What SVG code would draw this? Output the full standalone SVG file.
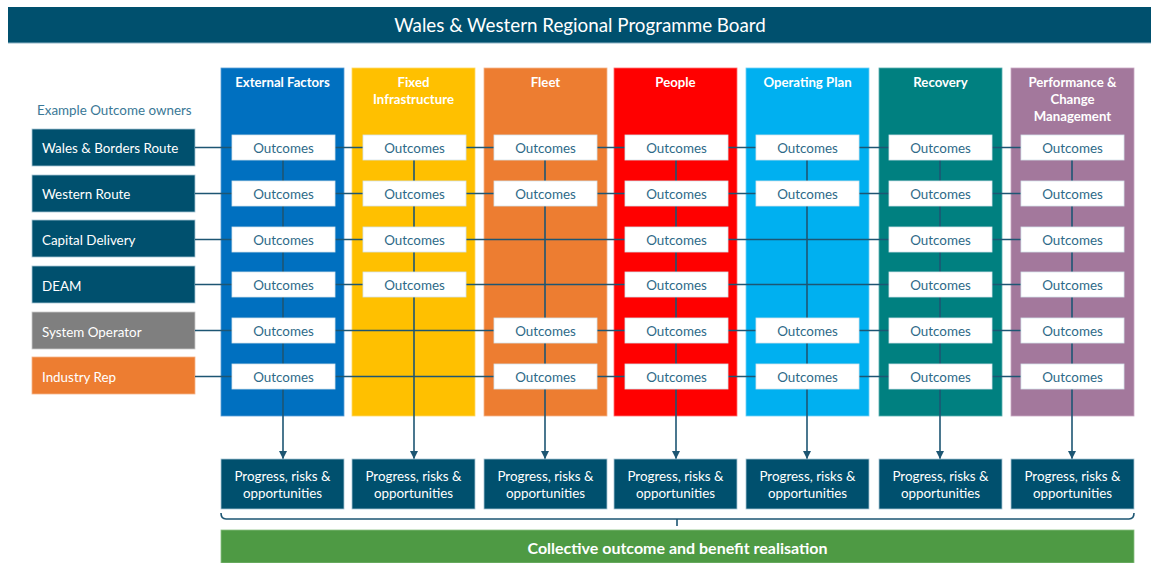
<svg xmlns="http://www.w3.org/2000/svg" width="1151" height="563" viewBox="0 0 1151 563">
<style>
text{font-family:Lato,"Open Sans","Liberation Sans",sans-serif}
.hdr{fill:#00506e}
.own{fill:#00506e;stroke:#a9c6d4;stroke-width:0.8}
.owntx{fill:#fff;font-size:13.4px}
.colh{fill:#fff;font-size:13.2px;font-weight:bold;text-anchor:middle}
.out{fill:#fff;stroke:#d5e3ea;stroke-width:0.8}
.outtx{fill:#2e6a88;font-size:13.4px;text-anchor:middle}
.prog{fill:#00506e;stroke:#a9c6d4;stroke-width:0.8}
.progtx{fill:#fff;font-size:13.4px;text-anchor:middle}
.ln{stroke:#1d5673;stroke-width:1.6;fill:none}
</style>
<defs>
<marker id="ah" viewBox="0 0 10 10" refX="10" refY="5" markerWidth="5" markerHeight="5" orient="auto" markerUnits="strokeWidth">
<path d="M0,0 L10,5 L0,10 z" fill="#1d5673"/>
</marker>
</defs>

<g id="title">
<rect class="hdr" x="8" y="7" width="1143" height="36"/>
<line x1="8" y1="43" x2="1151" y2="43" stroke="#8fb4c6" stroke-width="1"/>
<text x="580" y="32" fill="#fff" font-size="18.8" text-anchor="middle">Wales &amp; Western Regional Programme Board</text>
</g>

<g id="owners-label"><text x="37" y="115" fill="#3a7896" font-size="13.4">Example Outcome owners</text></g>

<g id="owner-wb"><rect class="own" x="32" y="129" width="163" height="37"/><text class="owntx" x="42" y="152.5">Wales &amp; Borders Route</text></g>
<g id="owner-western"><rect class="own" x="32" y="175" width="163" height="37"/><text class="owntx" x="42" y="198.5">Western Route</text></g>
<g id="owner-capital"><rect class="own" x="32" y="220" width="163" height="37"/><text class="owntx" x="42" y="244.5">Capital Delivery</text></g>
<g id="owner-deam"><rect class="own" x="32" y="266" width="163" height="37"/><text class="owntx" x="42" y="290.5">DEAM</text></g>
<g id="owner-sysop"><rect x="32" y="312" width="163" height="37" fill="#7f7f7f" stroke="#c8c8c8" stroke-width="0.8"/><text class="owntx" x="42" y="336.5">System Operator</text></g>
<g id="owner-industry"><rect x="32" y="357" width="163" height="37" fill="#ed7d31" stroke="#f5b48a" stroke-width="0.8"/><text class="owntx" x="42" y="381.5">Industry Rep</text></g>

<g id="col-external"><rect x="221" y="68" width="123" height="348" fill="#0070c0" stroke="#5a9fd6" stroke-width="0.8"/><text class="colh" x="282.5" y="87">External Factors</text></g>
<g id="col-fixed"><rect x="352" y="68" width="123" height="348" fill="#ffc000" stroke="#ffd966" stroke-width="0.8"/><text class="colh" x="413.5" y="87">Fixed</text><text class="colh" x="413.5" y="104">Infrastructure</text></g>
<g id="col-fleet"><rect x="484" y="68" width="123" height="348" fill="#ed7d31" stroke="#f5b48a" stroke-width="0.8"/><text class="colh" x="545.5" y="87">Fleet</text></g>
<g id="col-people"><rect x="614" y="68" width="123" height="348" fill="#ff0000" stroke="#ff7070" stroke-width="0.8"/><text class="colh" x="675.5" y="87">People</text></g>
<g id="col-opplan"><rect x="746" y="68" width="123" height="348" fill="#00b0f0" stroke="#70d0f5" stroke-width="0.8"/><text class="colh" x="807.5" y="87">Operating Plan</text></g>
<g id="col-recovery"><rect x="879" y="68" width="123" height="348" fill="#008080" stroke="#5aaeae" stroke-width="0.8"/><text class="colh" x="940.5" y="87">Recovery</text></g>
<g id="col-perf"><rect x="1011" y="68" width="123" height="348" fill="#a3789c" stroke="#c9a9c3" stroke-width="0.8"/><text class="colh" x="1072.5" y="87">Performance &amp;</text><text class="colh" x="1072.5" y="104">Change</text><text class="colh" x="1072.5" y="121">Management</text></g>

<g id="connectors">
<line class="ln" x1="195" y1="147.5" x2="1073" y2="147.5"/>
<line class="ln" x1="195" y1="193.5" x2="1073" y2="193.5"/>
<line class="ln" x1="195" y1="239.5" x2="1073" y2="239.5"/>
<line class="ln" x1="195" y1="284.5" x2="1073" y2="284.5"/>
<line class="ln" x1="195" y1="330.5" x2="1073" y2="330.5"/>
<line class="ln" x1="195" y1="376.5" x2="1073" y2="376.5"/>
<line class="ln" x1="283" y1="148" x2="283" y2="459" marker-end="url(#ah)"/>
<line class="ln" x1="414" y1="148" x2="414" y2="459" marker-end="url(#ah)"/>
<line class="ln" x1="545" y1="148" x2="545" y2="459" marker-end="url(#ah)"/>
<line class="ln" x1="676" y1="148" x2="676" y2="459" marker-end="url(#ah)"/>
<line class="ln" x1="807" y1="148" x2="807" y2="459" marker-end="url(#ah)"/>
<line class="ln" x1="940" y1="148" x2="940" y2="459" marker-end="url(#ah)"/>
<line class="ln" x1="1072" y1="148" x2="1072" y2="459" marker-end="url(#ah)"/>
<path class="ln" d="M221,513 Q221,519 226,519 L1129,519 Q1134,519 1134,513 M677,519 L677,526"/>
</g>

<g id="outcomes-external">
<rect class="out" x="232" y="135" width="103" height="25"/><text class="outtx" x="283.5" y="152.5">Outcomes</text>
<rect class="out" x="232" y="181" width="103" height="25"/><text class="outtx" x="283.5" y="198.5">Outcomes</text>
<rect class="out" x="232" y="227" width="103" height="25"/><text class="outtx" x="283.5" y="244.5">Outcomes</text>
<rect class="out" x="232" y="272" width="103" height="25"/><text class="outtx" x="283.5" y="289.5">Outcomes</text>
<rect class="out" x="232" y="318" width="103" height="25"/><text class="outtx" x="283.5" y="335.5">Outcomes</text>
<rect class="out" x="232" y="364" width="103" height="25"/><text class="outtx" x="283.5" y="381.5">Outcomes</text>
</g>
<g id="outcomes-fixed">
<rect class="out" x="363" y="135" width="103" height="25"/><text class="outtx" x="414.5" y="152.5">Outcomes</text>
<rect class="out" x="363" y="181" width="103" height="25"/><text class="outtx" x="414.5" y="198.5">Outcomes</text>
<rect class="out" x="363" y="227" width="103" height="25"/><text class="outtx" x="414.5" y="244.5">Outcomes</text>
<rect class="out" x="363" y="272" width="103" height="25"/><text class="outtx" x="414.5" y="289.5">Outcomes</text>
</g>
<g id="outcomes-fleet">
<rect class="out" x="494" y="135" width="103" height="25"/><text class="outtx" x="545.5" y="152.5">Outcomes</text>
<rect class="out" x="494" y="181" width="103" height="25"/><text class="outtx" x="545.5" y="198.5">Outcomes</text>
<rect class="out" x="494" y="318" width="103" height="25"/><text class="outtx" x="545.5" y="335.5">Outcomes</text>
<rect class="out" x="494" y="364" width="103" height="25"/><text class="outtx" x="545.5" y="381.5">Outcomes</text>
</g>
<g id="outcomes-people">
<rect class="out" x="625" y="135" width="103" height="25"/><text class="outtx" x="676.5" y="152.5">Outcomes</text>
<rect class="out" x="625" y="181" width="103" height="25"/><text class="outtx" x="676.5" y="198.5">Outcomes</text>
<rect class="out" x="625" y="227" width="103" height="25"/><text class="outtx" x="676.5" y="244.5">Outcomes</text>
<rect class="out" x="625" y="272" width="103" height="25"/><text class="outtx" x="676.5" y="289.5">Outcomes</text>
<rect class="out" x="625" y="318" width="103" height="25"/><text class="outtx" x="676.5" y="335.5">Outcomes</text>
<rect class="out" x="625" y="364" width="103" height="25"/><text class="outtx" x="676.5" y="381.5">Outcomes</text>
</g>
<g id="outcomes-opplan">
<rect class="out" x="756" y="135" width="103" height="25"/><text class="outtx" x="807.5" y="152.5">Outcomes</text>
<rect class="out" x="756" y="181" width="103" height="25"/><text class="outtx" x="807.5" y="198.5">Outcomes</text>
<rect class="out" x="756" y="318" width="103" height="25"/><text class="outtx" x="807.5" y="335.5">Outcomes</text>
<rect class="out" x="756" y="364" width="103" height="25"/><text class="outtx" x="807.5" y="381.5">Outcomes</text>
</g>
<g id="outcomes-recovery">
<rect class="out" x="889" y="135" width="103" height="25"/><text class="outtx" x="940.5" y="152.5">Outcomes</text>
<rect class="out" x="889" y="181" width="103" height="25"/><text class="outtx" x="940.5" y="198.5">Outcomes</text>
<rect class="out" x="889" y="227" width="103" height="25"/><text class="outtx" x="940.5" y="244.5">Outcomes</text>
<rect class="out" x="889" y="272" width="103" height="25"/><text class="outtx" x="940.5" y="289.5">Outcomes</text>
<rect class="out" x="889" y="318" width="103" height="25"/><text class="outtx" x="940.5" y="335.5">Outcomes</text>
<rect class="out" x="889" y="364" width="103" height="25"/><text class="outtx" x="940.5" y="381.5">Outcomes</text>
</g>
<g id="outcomes-perf">
<rect class="out" x="1021" y="135" width="103" height="25"/><text class="outtx" x="1072.5" y="152.5">Outcomes</text>
<rect class="out" x="1021" y="181" width="103" height="25"/><text class="outtx" x="1072.5" y="198.5">Outcomes</text>
<rect class="out" x="1021" y="227" width="103" height="25"/><text class="outtx" x="1072.5" y="244.5">Outcomes</text>
<rect class="out" x="1021" y="272" width="103" height="25"/><text class="outtx" x="1072.5" y="289.5">Outcomes</text>
<rect class="out" x="1021" y="318" width="103" height="25"/><text class="outtx" x="1072.5" y="335.5">Outcomes</text>
<rect class="out" x="1021" y="364" width="103" height="25"/><text class="outtx" x="1072.5" y="381.5">Outcomes</text>
</g>

<g id="progress-external"><rect class="prog" x="221" y="459" width="123" height="50"/><text class="progtx" x="282.5" y="481">Progress, risks &amp;</text><text class="progtx" x="282.5" y="498">opportunities</text></g>
<g id="progress-fixed"><rect class="prog" x="352" y="459" width="123" height="50"/><text class="progtx" x="413.5" y="481">Progress, risks &amp;</text><text class="progtx" x="413.5" y="498">opportunities</text></g>
<g id="progress-fleet"><rect class="prog" x="484" y="459" width="123" height="50"/><text class="progtx" x="545.5" y="481">Progress, risks &amp;</text><text class="progtx" x="545.5" y="498">opportunities</text></g>
<g id="progress-people"><rect class="prog" x="614" y="459" width="123" height="50"/><text class="progtx" x="675.5" y="481">Progress, risks &amp;</text><text class="progtx" x="675.5" y="498">opportunities</text></g>
<g id="progress-opplan"><rect class="prog" x="746" y="459" width="123" height="50"/><text class="progtx" x="807.5" y="481">Progress, risks &amp;</text><text class="progtx" x="807.5" y="498">opportunities</text></g>
<g id="progress-recovery"><rect class="prog" x="879" y="459" width="123" height="50"/><text class="progtx" x="940.5" y="481">Progress, risks &amp;</text><text class="progtx" x="940.5" y="498">opportunities</text></g>
<g id="progress-perf"><rect class="prog" x="1011" y="459" width="123" height="50"/><text class="progtx" x="1072.5" y="481">Progress, risks &amp;</text><text class="progtx" x="1072.5" y="498">opportunities</text></g>

<g id="collective"><rect x="221" y="530" width="913" height="33" fill="#4e9a44" stroke="#8cc084" stroke-width="0.8"/><text x="677.5" y="554" fill="#fff" font-size="16" font-weight="bold" text-anchor="middle">Collective outcome and benefit realisation</text></g>
</svg>
